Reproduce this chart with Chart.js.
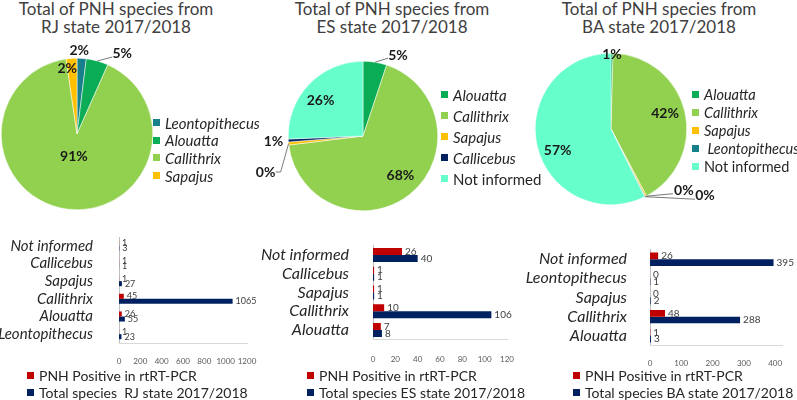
<!DOCTYPE html>
<html>
<head>
<meta charset="utf-8">
<script src="https://cdn.jsdelivr.net/npm/chart.js@4.4.0/dist/chart.umd.min.js"></script>
<style>
  body { margin: 0; background: #fff; }
  #wrap { position: relative; width: 797px; height: 400px; overflow: hidden; font-family: Lato, "Open Sans", sans-serif; }
  canvas { position: absolute; }
  .title { position: absolute; width: 240px; text-align: center; font-size: 17px; line-height: 18px; color: #404040; top: 0; }
  .legend { position: absolute; color: #262626; }
  .legend .item { display: flex; align-items: center; white-space: pre; }
  .legend .sw { width: 7px; height: 7px; margin-right: 5px; flex: none; }
</style>
</head>
<body>
<div id="wrap">
  <canvas id="pieRJ" width="232" height="180" style="left:0;top:40px"></canvas>
  <canvas id="pieES" width="200" height="180" style="left:250px;top:40px"></canvas>
  <canvas id="pieBA" width="200" height="180" style="left:530px;top:40px"></canvas>
  <canvas id="barRJ" width="265" height="160" style="left:0;top:210px"></canvas>
  <canvas id="barES" width="275" height="145" style="left:255px;top:220px"></canvas>
  <canvas id="barBA" width="277" height="145" style="left:520px;top:225px"></canvas>

  <div class="title" style="left:-4px">Total of PNH species from<br>RJ state 2017/2018</div>
  <div class="title" style="left:272px">Total of PNH species from<br>ES state 2017/2018</div>
  <div class="title" style="left:539px">Total of PNH species from<br>BA state 2017/2018</div>

  <div class="legend" id="legPieRJ" style="left:153px;top:114px;font-size:15px"></div>
  <div class="legend" id="legPieES" style="left:441px;top:84px;font-size:15px"></div>
  <div class="legend" id="legPieBA" style="left:692px;top:86px;font-size:14.5px"></div>
  <div class="legend" id="legBarRJ" style="left:27px;top:367px;font-size:14px"></div>
  <div class="legend" id="legBarES" style="left:307px;top:367px;font-size:14px"></div>
  <div class="legend" id="legBarBA" style="left:573px;top:367px;font-size:14px"></div>
</div>
<script>
// pie data: total species per genus
var rjPieLabels = ["Leontopithecus", "Alouatta", "Callithrix", "Sapajus"];
var rjPieValues = [23, 55, 1065, 27];
var rjPiePct = ["2%", "5%", "91%", "2%"];

var esPieLabels = ["Alouatta", "Callithrix", "Sapajus", "Callicebus", "Not informed"];
var esPieValues = [8, 106, 1, 1, 40];
var esPiePct = ["5%", "68%", "0%", "1%", "26%"];

var baPieLabels = ["Alouatta", "Callithrix", "Sapajus", "Leontopithecus", "Not informed"];
var baPieValues = [3, 288, 2, 1, 395];
var baPiePct = ["1%", "42%", "0%", "0%", "57%"];

// bar data
var rjBarCats = ["Not informed", "Callicebus", "Sapajus", "Callithrix", "Alouatta", "Leontopithecus"];
var rjPositive = [1, 1, 1, 45, 26, 1];
var rjTotal = [3, 1, 27, 1065, 55, 23];
var rjAxisMax = 1200, rjAxisStep = 200;

var esBarCats = ["Not informed", "Callicebus", "Sapajus", "Callithrix", "Alouatta"];
var esPositive = [26, 1, 1, 10, 7];
var esTotal = [40, 1, 1, 106, 8];
var esAxisMax = 120, esAxisStep = 20;

var baBarCats = ["Not informed", "Leontopithecus", "Sapajus", "Callithrix", "Alouatta"];
var baPositive = [26, 0, 0, 48, 1];
var baTotal = [395, 1, 2, 288, 3];
var baAxisMax = 422, baAxisStep = 100;

var posLabel = "PNH Positive in rtRT-PCR";
var totalLabels = ["Total species  RJ state 2017/2018", "Total species ES state 2017/2018", "Total species BA state 2017/2018"];

var colors = {
  "Leontopithecus": "#17808a",
  "Alouatta": "#0aad56",
  "Callithrix": "#92d050",
  "Sapajus": "#ffc000",
  "Callicebus": "#002060",
  "Not informed": "#66ffcc"
};
var red = "#c00000", navy = "#002060";

// where each percentage sits relative to its slice
var rjPlace = [
  {r: 1.11, dx: -3, dy: 0},
  {r: 1, dx: 25, dy: -8, line: [[-10, 4]]},
  {r: 0.3, dx: 0, dy: 0},
  {r: 0.87, dx: -5, dy: 0}
];
var esPlace = [
  {r: 1, dx: 23, dy: -7, line: [[-10, 3]]},
  {r: 0.75, dx: 2, dy: -4},
  {r: 1, dx: -23, dy: 28.5, line: [[15, 0], [10, 0]]},
  {r: 1.2, dx: 0, dy: 0},
  {r: 0.75, dx: -2, dy: 3}
];
var baPlace = [
  {r: 1, dx: 0, dy: 1},
  {r: 0.72, dx: 1, dy: -3},
  {r: 1, dx: 38, dy: -5.5, line: [[-11, 3]]},
  {r: 1, dx: 60, dy: -1.5, line: [[-10, 4]]},
  {r: 0.71, dx: -1, dy: 9}
];

var pieLabels = {
  id: "pieLabels",
  afterDatasetsDraw: function(chart, args, opts) {
    var ctx = chart.ctx;
    var meta = chart.getDatasetMeta(0);
    ctx.save();
    ctx.font = "bold 14px Lato";
    ctx.fillStyle = "#1a1a1a";
    ctx.strokeStyle = "#595959";
    ctx.lineWidth = 0.8;
    ctx.textAlign = "center";
    ctx.textBaseline = "middle";
    meta.data.forEach(function(arc, i) {
      var p = opts.place[i];
      var a = arc.getProps(["x", "y", "startAngle", "endAngle", "outerRadius"], true);
      var mid = (a.startAngle + a.endAngle) / 2;
      var cx = Math.cos(mid), cy = Math.sin(mid);
      var tx = a.x + cx * a.outerRadius * p.r + p.dx;
      var ty = a.y + cy * a.outerRadius * p.r + p.dy;
      if (p.line) {
        ctx.beginPath();
        ctx.moveTo(a.x + cx * a.outerRadius, a.y + cy * a.outerRadius);
        p.line.forEach(function(pt) { ctx.lineTo(tx + pt[0], ty + pt[1]); });
        ctx.stroke();
      }
      ctx.fillText(opts.text[i], tx, ty);
    });
    ctx.restore();
  }
};

var barValues = {
  id: "barValues",
  afterDatasetsDraw: function(chart, args, opts) {
    var ctx = chart.ctx;
    ctx.save();
    ctx.font = opts.size + "px Lato";
    ctx.fillStyle = "#404040";
    ctx.textAlign = "left";
    ctx.textBaseline = "middle";
    chart.data.datasets.forEach(function(ds, di) {
      chart.getDatasetMeta(di).data.forEach(function(bar, i) {
        ctx.fillText(String(ds.data[i]), bar.x + 3, bar.y);
      });
    });
    ctx.restore();
  }
};

function makePie(id, labels, values, pct, place, pad) {
  new Chart(document.getElementById(id), {
    type: "pie",
    data: {
      labels: labels,
      datasets: [{
        data: values,
        backgroundColor: labels.map(function(l) { return colors[l]; }),
        borderColor: "#ffffff",
        borderWidth: 0.5
      }]
    },
    options: {
      responsive: false,
      animation: false,
      layout: {padding: pad},
      plugins: {
        legend: {display: false},
        tooltip: {enabled: false},
        pieLabels: {text: pct, place: place}
      }
    },
    plugins: [pieLabels]
  });
}

function makeBar(id, cats, pos, total, totalLabel, max, step, sizes) {
  new Chart(document.getElementById(id), {
    type: "bar",
    data: {
      labels: cats,
      datasets: [
        {label: posLabel, data: pos, backgroundColor: red},
        {label: totalLabel, data: total, backgroundColor: navy}
      ]
    },
    options: {
      indexAxis: "y",
      responsive: false,
      animation: false,
      layout: {padding: {top: sizes.top, right: sizes.right, left: 0, bottom: 0}},
      datasets: {bar: {categoryPercentage: sizes.cat, barPercentage: 1}},
      scales: {
        y: {
          grid: {display: false},
          border: {display: true, color: "#bfbfbf"},
          ticks: {
            autoSkip: false,
            padding: sizes.labelPad,
            color: "#262626",
            font: {family: "Lato", size: sizes.catSize, style: "italic"}
          },
          afterFit: function(s) { s.width = sizes.yWidth; }
        },
        x: {
          min: 0,
          max: max,
          grid: {display: false},
          border: {display: true, color: "#d9d9d9"},
          ticks: {
            stepSize: step,
            includeBounds: false,
            autoSkip: false,
            maxRotation: 0,
            padding: sizes.tickPad,
            color: "#595959",
            font: {family: "Lato", size: 8},
            callback: function(v) { return String(v); }
          },
          afterFit: function(s) { s.height = sizes.xHeight; }
        }
      },
      plugins: {
        legend: {display: false},
        tooltip: {enabled: false},
        barValues: {size: sizes.valueSize}
      }
    },
    plugins: [barValues]
  });
}

function legend(id, names, swatches, lineH) {
  var el = document.getElementById(id);
  names.forEach(function(n, i) {
    var row = document.createElement("div");
    row.className = "item";
    row.style.height = lineH + "px";
    var sw = document.createElement("span");
    sw.className = "sw";
    sw.style.background = swatches[i];
    var tx = document.createElement("span");
    tx.textContent = n;
    row.appendChild(sw);
    row.appendChild(tx);
    el.appendChild(row);
  });
}

function pieLegend(id, labels, lineH, lead) {
  legend(id, labels.map(function(l) { return (lead && lead[l] ? lead[l] : "") + l; }),
    labels.map(function(l) { return colors[l]; }), lineH);
  // genus names in italics, "Not informed" upright
  var rows = document.getElementById(id).children;
  labels.forEach(function(l, i) {
    if (l !== "Not informed") rows[i].lastChild.style.fontStyle = "italic";
  });
}

makePie("pieRJ", rjPieLabels, rjPieValues, rjPiePct, rjPlace, {left: 1, right: 79, top: 18, bottom: 10});
makePie("pieES", esPieLabels, esPieValues, esPiePct, esPlace, {left: 38, right: 12, top: 21, bottom: 9});
makePie("pieBA", baPieLabels, baPieValues, baPiePct, baPlace, {left: 5, right: 43, top: 13, bottom: 15});

makeBar("barRJ", rjBarCats, rjPositive, rjTotal, totalLabels[0], rjAxisMax, rjAxisStep,
  {top: 11, right: 18, yWidth: 119, xHeight: 23, labelPad: 18, tickPad: 6, cat: 0.57, valueSize: 9, catSize: 15});
makeBar("barES", esBarCats, esPositive, esTotal, totalLabels[1], esAxisMax, esAxisStep,
  {top: 14, right: 23, yWidth: 118, xHeight: 25, labelPad: 16, tickPad: 7, cat: 0.75, valueSize: 10, catSize: 16});
makeBar("barBA", baBarCats, baPositive, baTotal, totalLabels[2], baAxisMax, baAxisStep,
  {top: 15, right: 15, yWidth: 130, xHeight: 23, labelPad: 15, tickPad: 5, cat: 0.7, valueSize: 10, catSize: 16});

pieLegend("legPieRJ", rjPieLabels, 17.6);
pieLegend("legPieES", esPieLabels, 21);
pieLegend("legPieBA", baPieLabels, 17.8, {"Leontopithecus": " "});

legend("legBarRJ", [posLabel, totalLabels[0]], [red, navy], 17);
legend("legBarES", [posLabel, totalLabels[1]], [red, navy], 17);
legend("legBarBA", [posLabel, totalLabels[2]], [red, navy], 17);
</script>
</body>
</html>
